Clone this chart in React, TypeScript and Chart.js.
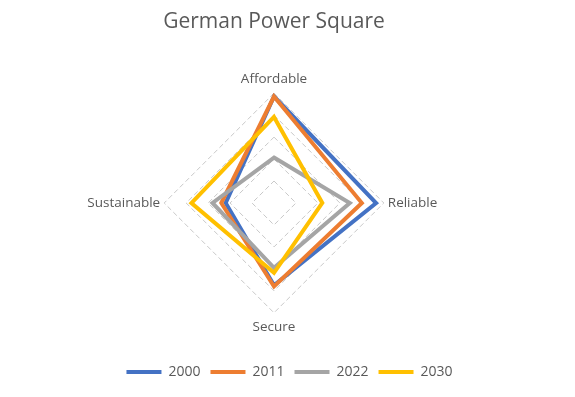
import React, { useEffect, useRef } from "react";
import { Chart, registerables } from "chart.js";

Chart.register(...registerables);

const categories = ["Affordable", "Reliable", "Secure", "Sustainable"];
const seriesNames = ["2000", "2011", "2022", "2030"];
const values2000 = [4.85, 4.65, 3.75, 2.2];
const values2011 = [4.85, 4.0, 3.8, 2.4];
const values2022 = [2.07, 3.45, 2.95, 2.8];
const values2030 = [3.92, 2.2, 3.18, 3.76];
const seriesColors = ["#4472C4", "#ED7D31", "#A5A5A5", "#FFC000"];
const scaleMin = 0;
const scaleMax = 5;
const scaleStep = 1;

const FONT = "'Open Sans', 'DejaVu Sans', sans-serif";
const TEXT_COLOR = "#595959";

export default function App() {
  const canvasRef = useRef<HTMLCanvasElement | null>(null);

  useEffect(() => {
    document.body.style.margin = "0";
    const canvas = canvasRef.current;
    if (!canvas) return;
    const allValues = [values2000, values2011, values2022, values2030];
    const datasets = allValues.map((vals, i) => ({
      label: seriesNames[i],
      data: vals,
      borderColor: seriesColors[i],
      backgroundColor: seriesColors[i],
      borderWidth: 4,
      fill: false,
      pointRadius: 0,
      pointHoverRadius: 0,
      borderJoinStyle: "miter" as const,
      borderCapStyle: "round" as const,
      order: allValues.length - i,
    }));

    const chart = new Chart(canvas, {
      type: "radar",
      data: { labels: categories, datasets },
      options: {
        responsive: false,
        animation: false,
        layout: { padding: { left: 4, right: 0, top: 0, bottom: 8 } },
        scales: {
          r: {
            min: scaleMin,
            max: scaleMax,
            beginAtZero: true,
            ticks: { display: false, stepSize: scaleStep },
            angleLines: { display: false },
            grid: {
              color: "#c8c8c8",
              lineWidth: 1,
            },
            border: { dash: [5, 3] },
            pointLabels: {
              color: TEXT_COLOR,
              padding: (ctx: any) => (ctx.index % 2 === 0 ? 6 : 4),
              font: { family: FONT, size: 13.5 },
            },
          },
        },
        plugins: {
          title: {
            display: true,
            text: "German Power Square",
            color: TEXT_COLOR,
            fullSize: false,
            font: { family: FONT, size: 21, weight: "normal" },
            padding: { top: 9, bottom: 36.8 },
          },
          subtitle: {
            display: true,
            position: "right",
            text: "",
            font: { family: FONT, size: 10 },
            padding: { top: 19, bottom: 0 },
          },
          legend: {
            display: true,
            position: "bottom",
            title: {
              display: true,
              text: "",
              font: { family: FONT, size: 10 },
              padding: { top: 0, bottom: 8 },
            },
            labels: {
              usePointStyle: true,
              pointStyle: "line",
              pointStyleWidth: 35,
              color: TEXT_COLOR,
              padding: 10,
              font: { family: FONT, size: 14 },
              sort: (a: any, b: any) => a.datasetIndex - b.datasetIndex,
            },
          },
          tooltip: { enabled: false },
        },
      },
    });
    return () => chart.destroy();
  }, []);

  return (
    <div style={{ width: 575, height: 397, background: "#ffffff" }}>
      <canvas ref={canvasRef} width={575} height={397} style={{ display: "block" }} />
    </div>
  );
}
